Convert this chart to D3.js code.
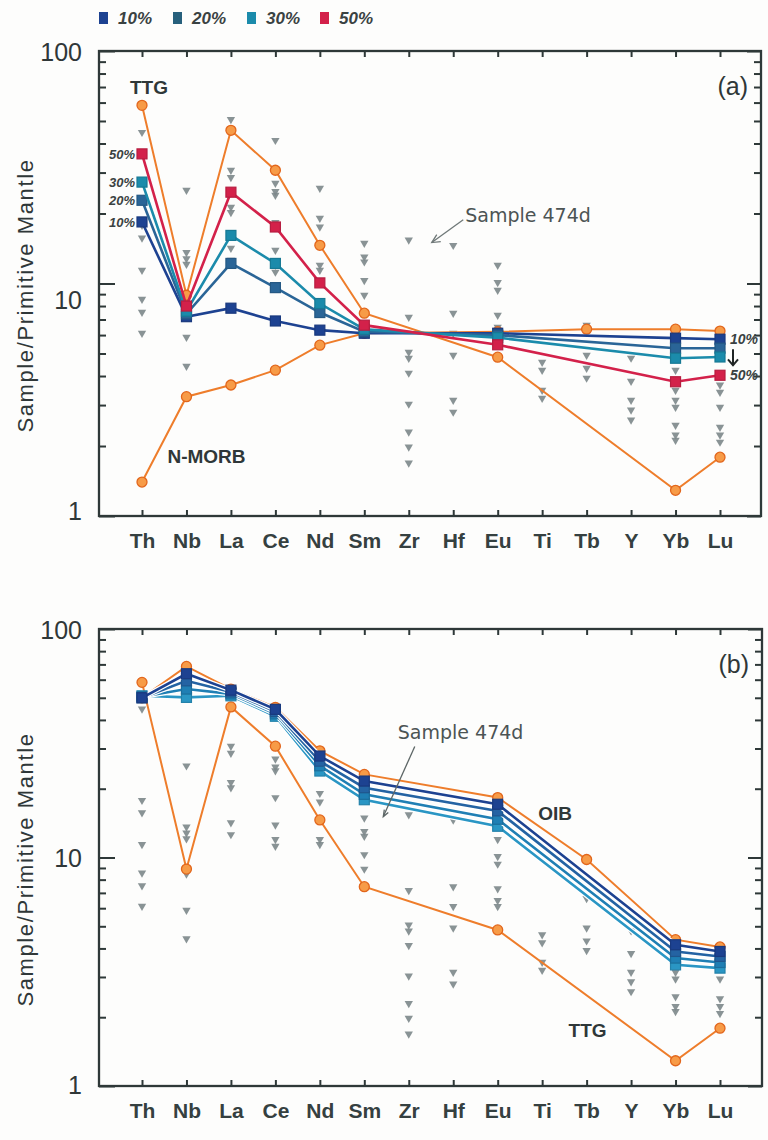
<!DOCTYPE html>
<html><head><meta charset="utf-8">
<script src="https://cdn.jsdelivr.net/npm/d3@7"></script>
<style>body{margin:0;background:#fdfdfc;} svg{display:block;}</style>
</head><body>
<svg id="c" width="768" height="1140"></svg>
<script>
// ---------------- data ----------------
const elements = ["Th","Nb","La","Ce","Nd","Sm","Zr","Hf","Eu","Ti","Tb","Y","Yb","Lu"];
const yTicks = [1, 10, 100];
const mixLabels = ["10%","20%","30%","50%"];

// end-members (Sample / Primitive Mantle); null = not plotted
const ttg   = [58.4, 8.9, 45.6, 30.7, 14.6, 7.45, null, null, 4.82, null, null, null, 1.29, 1.79];
const nmorb = [1.40, 3.26, 3.66, 4.24, 5.43, 6.11, null, null, 6.2, null, 6.36, null, 6.36, 6.24];
const oib   = [50, 68.6, 54.6, 45.4, 29.3, 23.1, null, null, 18.3, null, 9.8, null, 4.37, 4.06];

// panel (a) mixing curves
const mixA10 = [18.4, 7.2, 7.83, 6.9, 6.3, 6.11, null, null, 6.11, null, null, null, 5.82, 5.76];
const mixA20 = [22.8, 7.4, 12.2, 9.6, 7.5, 6.2, null, null, 6.0, null, null, null, 5.27, 5.27];
const mixA30 = [27.3, 7.6, 16.1, 12.2, 8.2, 6.35, null, null, 5.85, null, null, null, 4.77, 4.83];
const mixA50 = [36.1, 8.0, 24.7, 17.5, 10.06, 6.62, null, null, 5.45, null, null, null, 3.78, 4.03];

// panel (b) mixing curves
const mixB10 = [50, 63.7, 54, 44.5, 27.8, 21.6, null, null, 17.1, null, null, null, 4.15, 3.88];
const mixB20 = [50, 59.3, 53, 43.5, 26.4, 20.2, null, null, 16.0, null, null, null, 3.88, 3.69];
const mixB30 = [50.5, 54.6, 52, 42.5, 25.2, 18.9, null, null, 14.7, null, null, null, 3.63, 3.47];
const mixB50 = [51, 50.2, 51, 41.5, 23.9, 17.9, null, null, 13.7, null, null, null, 3.39, 3.28];

// grey triangles: analysed samples, one list per element
const samples = [
  [44.7, 17.8, 15.7, 11.4, 8.56, 7.53, 6.12],            // Th
  [25.2, 13.6, 12.8, 12.1, 8.48, 5.88, 4.41],            // Nb
  [50.8, 30.7, 28.6, 21.3, 20.2, 14.2, 12.6],            // La
  [41.3, 27.0, 24.9, 24.0, 18.3, 13.9, 12.0, 11.2],      // Ce
  [25.7, 19.1, 17.5, 12.0, 11.4],                        // Nd
  [14.9, 13.0, 12.4, 10.3, 8.9],                         // Sm
  [15.4, 7.17, 5.07, 4.77, 4.12, 3.03, 2.30, 1.98, 1.69],// Zr
  [14.6, 7.45, 6.11, 4.92, 3.15, 2.80],                  // Hf
  [12.0, 10.1, 9.36, 7.31, 6.49, 6.11],                  // Eu
  [4.59, 4.24, 3.48, 3.21],                              // Ti
  [6.62, 4.92, 4.32, 3.92],                              // Tb
  [4.78, 3.80, 3.15, 2.86, 2.59],                        // Y
  [4.24, 3.48, 3.15, 2.94, 2.46, 2.23, 2.12],            // Yb
  [3.66, 3.41, 2.94, 2.41, 2.23, 2.08]                   // Lu
];

// ---------------- styles ----------------
const ORANGE = "#ee7d2b", ORANGE_FILL = "#f79b47", ORANGE_EDGE = "#e2661c";
const mixColorsA = ["#1d4291", "#2a6597", "#1b8bab", "#d3214a"];
const mixColorsB = ["#1d4291", "#2463a3", "#1f7fb4", "#2a96c4"];
const AXIS = "#2e3838", TXT = "#2f3738";
const FONT = "'Liberation Sans', Arial, sans-serif";

const svg = d3.select("#c");

// legend
const legend = svg.append("g");
const legX = [99, 173, 247, 320];
mixLabels.forEach((lab, i) => {
  legend.append("rect").attr("x", legX[i]).attr("y", 12).attr("width", 9).attr("height", 12)
    .attr("fill", i === 1 ? "#27607c" : mixColorsA[i]);
  legend.append("text").attr("x", legX[i] + 19).attr("y", 24).text(lab)
    .attr("font-family", FONT).attr("font-weight", "bold").attr("font-style", "italic")
    .attr("font-size", 17).attr("fill", "#3a4242");
});

function toPts(arr) {
  return elements.map((e, i) => ({ e, v: arr[i] })).filter(d => d.v != null);
}

function drawPanel(o) {
  const x = d3.scalePoint().domain(elements).range([142, 720]);
  const y = d3.scaleLog().domain([1, 100]).range([o.bottom, o.top]);
  const g = svg.append("g");
  const minor = [];
  [1, 10].forEach(dec => { for (let k = 2; k <= 9; k++) minor.push(dec * k); });

  // triangles
  const tri = d3.symbol().type(d3.symbolTriangle).size(30);
  samples.forEach((list, i) => {
    g.append("g").selectAll("path").data(list).join("path")
      .attr("d", tri)
      .attr("transform", d => `translate(${x(elements[i])},${y(d)}) rotate(180)`)
      .attr("fill", "#7c8789").attr("opacity", 0.9);
  });

  const line = d3.line().x(d => x(d.e)).y(d => y(d.v));

  function orangeSeries(arr) {
    const pts = toPts(arr);
    g.append("path").datum(pts).attr("d", line).attr("fill", "none")
      .attr("stroke", ORANGE).attr("stroke-width", 2);
    g.append("g").selectAll("circle").data(pts).join("circle")
      .attr("cx", d => x(d.e)).attr("cy", d => y(d.v)).attr("r", 5)
      .attr("fill", ORANGE_FILL).attr("stroke", ORANGE_EDGE).attr("stroke-width", 1.3);
  }
  function mixSeries(arr, color, casing) {
    const pts = toPts(arr);
    if (casing) {
      g.append("path").datum(pts).attr("d", line).attr("fill", "none")
        .attr("stroke", "#ffffff").attr("stroke-width", 5);
    }
    g.append("path").datum(pts).attr("d", line).attr("fill", "none")
      .attr("stroke", color).attr("stroke-width", 2.6);
    g.append("g").selectAll("rect").data(pts).join("rect")
      .attr("x", d => x(d.e) - 5).attr("y", d => y(d.v) - 5)
      .attr("width", 10).attr("height", 10)
      .attr("fill", color).attr("stroke", d3.color(color).darker(0.4)).attr("stroke-width", 1.2);
  }

  o.orange.forEach(arr => orangeSeries(arr));
  o.mix.forEach((arr, i) => mixSeries(arr, o.mixColors[i], o.casing));

  // frame
  g.append("rect").attr("x", o.left).attr("y", o.top).attr("width", o.right - o.left)
    .attr("height", o.bottom - o.top).attr("fill", "none").attr("stroke", AXIS).attr("stroke-width", 2.3);

  // left axis
  const la = g.append("g").attr("transform", `translate(${o.left},0)`)
    .call(d3.axisLeft(y).tickValues(yTicks).tickFormat(d3.format("d"))
      .tickSizeInner(-16).tickSizeOuter(0).tickPadding(17));
  g.append("g").attr("transform", `translate(${o.left},0)`)
    .call(d3.axisLeft(y).tickValues(minor).tickFormat("").tickSizeInner(-7).tickSizeOuter(0));
  la.selectAll("text").attr("font-family", FONT).attr("font-size", 25).attr("fill", TXT)
    .attr("dy", d => (o.labelShift[d] || 0) + 9);
  // right axis
  g.append("g").attr("transform", `translate(${o.right},0)`)
    .call(d3.axisRight(y).tickValues(yTicks).tickFormat("").tickSizeInner(-14).tickSizeOuter(0));
  g.append("g").attr("transform", `translate(${o.right},0)`)
    .call(d3.axisRight(y).tickValues(minor).tickFormat("").tickSizeInner(-7).tickSizeOuter(0));
  // bottom axis
  const ba = g.append("g").attr("transform", `translate(0,${o.bottom})`)
    .call(d3.axisBottom(x).tickSizeInner(-6).tickSizeOuter(0).tickPadding(17));
  ba.selectAll("text").attr("font-family", FONT).attr("font-size", 21).attr("font-weight", "bold").attr("fill", "#354040");
  // top axis
  g.append("g").attr("transform", `translate(0,${o.top})`)
    .call(d3.axisTop(x).tickSizeInner(-6).tickSizeOuter(0).tickFormat(""));
  g.selectAll(".domain").remove();
  g.selectAll(".tick line").attr("stroke", AXIS).attr("stroke-width", 2);

  // y title
  const cy = (o.top + o.bottom) / 2;
  g.append("text").attr("transform", `translate(33,${cy + 12}) rotate(-90)`)
    .attr("text-anchor", "middle").attr("font-family", FONT).attr("font-size", 22)
    .attr("letter-spacing", 1.6).attr("fill", TXT).text("Sample/Primitive Mantle");

  // panel letter
  g.append("text").attr("x", o.right - 13).attr("y", o.top + 44).attr("text-anchor", "end")
    .attr("font-family", FONT).attr("font-size", 25).attr("fill", TXT).text(o.letter);

  return { g, x, y };
}

// ---------------- panel (a) ----------------
const A = drawPanel({
  left: 99, right: 761, top: 51, bottom: 516, letter: "(a)",
  orange: [nmorb, ttg], mix: [mixA10, mixA20, mixA30, mixA50], mixColors: mixColorsA,
  casing: false, labelShift: { 100: 0, 10: 16, 1: -6 }
});
(function () {
  const { g, x, y } = A;
  const bold = sel => sel.attr("font-family", FONT).attr("font-weight", "bold").attr("fill", TXT);
  bold(g.append("text").attr("x", x("Th") + 7).attr("y", y(70) + 7).attr("text-anchor", "middle")
    .attr("font-size", 19).text("TTG"));
  bold(g.append("text").attr("x", x("Nb") - 19).attr("y", y(1.81) + 7)
    .attr("font-size", 19).text("N-MORB"));
  // small mixing labels near Th
  const thVals = [mixA10[0], mixA20[0], mixA30[0], mixA50[0]];
  thVals.forEach((v, i) => {
    g.append("text").attr("x", x("Th") - 7).attr("y", y(v) + 5).attr("text-anchor", "end")
      .attr("font-family", FONT).attr("font-weight", "bold").attr("font-style", "italic")
      .attr("font-size", 13).attr("fill", "#3a4242").text(mixLabels[i]);
  });
  // right-hand labels
  const rl = [[mixA10[13], "10%"], [mixA50[13], "50%"]];
  rl.forEach(([v, t]) => {
    g.append("text").attr("x", x("Lu") + 10).attr("y", y(v) + 5)
      .attr("font-family", FONT).attr("font-weight", "bold").attr("font-style", "italic")
      .attr("font-size", 14).attr("fill", "#3a4242").text(t);
  });
  const ax = x("Lu") + 13, ay1 = y(mixA10[13]) + 10, ay2 = y(mixA50[13]) - 10;
  g.append("line").attr("x1", ax).attr("x2", ax).attr("y1", ay1).attr("y2", ay2)
    .attr("stroke", "#1f2424").attr("stroke-width", 2);
  g.append("path").attr("d", `M${ax - 5},${ay2 - 6} L${ax},${ay2} L${ax + 5},${ay2 - 6}`)
    .attr("fill", "none").attr("stroke", "#1f2424").attr("stroke-width", 2);
  // Sample 474d annotation
  g.append("text").attr("x", x("Hf") + 12).attr("y", y(18.3))
    .attr("font-family", "'DejaVu Sans', sans-serif").attr("font-size", 19).attr("fill", "#4c5454")
    .text("Sample 474d");
  const sx = x("Hf") + 10, sy = y(18.8), ex = x("Zr") + 23, ey = y(15.0);
  g.append("line").attr("x1", sx).attr("y1", sy).attr("x2", ex).attr("y2", ey)
    .attr("stroke", "#6f7878").attr("stroke-width", 1.3);
  g.append("path").attr("d", `M${ex + 9},${ey - 1} L${ex},${ey} L${ex + 5},${ey - 8}`)
    .attr("fill", "none").attr("stroke", "#6f7878").attr("stroke-width", 1.3);
})();

// ---------------- panel (b) ----------------
const B = drawPanel({
  left: 99, right: 762, top: 629, bottom: 1086, letter: "(b)",
  orange: [ttg, oib], mix: [mixB50, mixB30, mixB20, mixB10], mixColors: [mixColorsB[3], mixColorsB[2], mixColorsB[1], mixColorsB[0]],
  casing: true, labelShift: { 100: 0, 10: 0, 1: -2 }
});
(function () {
  const { g, x, y } = B;
  const bold = sel => sel.attr("font-family", FONT).attr("font-weight", "bold").attr("fill", TXT);
  bold(g.append("text").attr("x", x("Ti") - 4).attr("y", y(15.6) + 7).attr("font-size", 19).text("OIB"));
  bold(g.append("text").attr("x", x("Tb") - 18).attr("y", y(1.76) + 7).attr("font-size", 19).text("TTG"));
  g.append("text").attr("x", x("Zr") - 11).attr("y", y(32.9))
    .attr("font-family", "'DejaVu Sans', sans-serif").attr("font-size", 19).attr("fill", "#4c5454")
    .text("Sample 474d");
  const sx = x("Zr") + 6, sy = y(30.6), ex = x("Sm") + 19, ey = y(15.1);
  g.append("line").attr("x1", sx).attr("y1", sy).attr("x2", ex).attr("y2", ey)
    .attr("stroke", "#5d6666").attr("stroke-width", 1.3);
  g.append("path").attr("d", `M${ex + 1},${ey - 7} L${ex},${ey} L${ex + 5},${ey - 4}`)
    .attr("fill", "none").attr("stroke", "#5d6666").attr("stroke-width", 1.3);
})();
</script>
</body></html>
